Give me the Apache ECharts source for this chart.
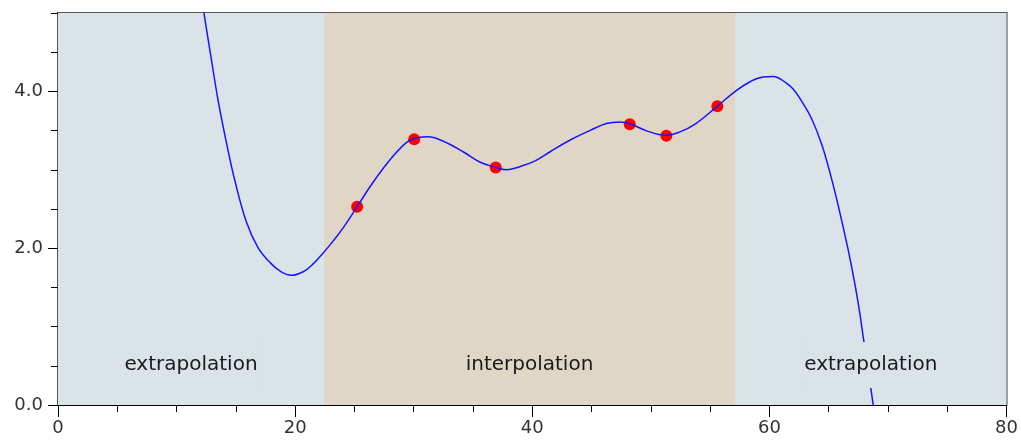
<!DOCTYPE html>
<html>
<head>
<meta charset="utf-8">
<script src="https://cdn.jsdelivr.net/npm/echarts@6/dist/echarts.min.js"></script>
<style>
html,body{margin:0;padding:0;background:#fff;}
#chart{width:1021px;height:443px;}
</style>
</head>
<body>
<div id="chart"></div>
<script>
// ---- data ----
const curveX = [11.8, 12.31, 12.87, 13.51, 14.27, 14.92, 15.9, 16.89, 17.87, 18.71, 19.7, 20.68, 21.52, 22.37, 23.2, 24.05, 25.23, 26.3, 27.85, 29.4, 30.3, 31.2, 32.4, 34.17, 35.57, 36.92, 37.8, 38.95, 40.2, 41.5, 43.2, 44.85, 46.25, 47.4, 48.2, 49.6, 51.3, 52.4, 53.8, 55.6, 57.2, 58.45, 59.46, 60.3, 61.4, 62.0, 62.7, 63.5, 64.4, 65.2, 65.9, 66.6, 67.2, 67.6, 67.9, 68.7, 69.0];
const curveY = [5.50, 5.00, 4.47, 3.88, 3.30, 2.86, 2.33, 2.00, 1.82, 1.71, 1.655, 1.70, 1.80, 1.94, 2.09, 2.26, 2.53, 2.78, 3.10, 3.35, 3.41, 3.42, 3.37, 3.23, 3.10, 3.03, 3.00, 3.04, 3.11, 3.23, 3.38, 3.50, 3.59, 3.61, 3.59, 3.50, 3.44, 3.48, 3.59, 3.81, 4.01, 4.13, 4.185, 4.19, 4.11, 4.03, 3.88, 3.67, 3.33, 2.91, 2.48, 2.01, 1.55, 1.19, 0.88, 0.06, -0.28];
const pointsX = [25.23, 30.04, 36.92, 48.22, 51.31, 55.61];
const pointsY = [2.53, 3.39, 3.03, 3.58, 3.435, 3.81];
const regionStart = [0, 22.43, 57.1];
const regionEnd = [22.43, 57.1, 80];
const regionNames = ['extrapolation', 'interpolation', 'extrapolation'];
const xTicks = [0, 20, 40, 60, 80];
const yTicks = [0, 2, 4];

// ---- styles ----
const FONT = 'DejaVu Sans';
const regionColors = ['#d9e3e8', '#e0d6c5', '#d9e3e8'];

const fills = regionNames.map((n, i) => [
  { xAxis: regionStart[i], itemStyle: { color: regionColors[i] } },
  { xAxis: regionEnd[i] }
]);
// region labels sit at the centre of each region, on the x axis baseline
const labelData = regionNames.map((n, i) => ({
  value: [(regionStart[i] + regionEnd[i]) / 2, 0],
  name: n,
  label: { backgroundColor: regionColors[i] }
}));

const chart = echarts.init(document.getElementById('chart'), null, { renderer: 'canvas' });
chart.setOption({
  animation: false,
  backgroundColor: '#ffffff',
  grid: { left: 58, right: 14, top: 13, bottom: 38, show: true, borderColor: '#555', borderWidth: 2, backgroundColor: 'transparent' },
  xAxis: {
    type: 'value', min: 0, max: 80, interval: 20,
    axisLine: { show: true, onZero: false, lineStyle: { color: '#000', width: 1 } },
    axisTick: { show: true, length: 12, lineStyle: { color: '#000' } },
    minorTick: { show: true, splitNumber: 4, length: 7, lineStyle: { color: '#000' } },
    axisLabel: { customValues: xTicks, fontFamily: FONT, fontSize: 18, color: '#333', margin: 14 },
    splitLine: { show: false }, minorSplitLine: { show: false }
  },
  yAxis: [
    {
      type: 'value', min: 0, max: 5, interval: 0.5,
      axisLine: { show: true, onZero: false, lineStyle: { color: '#000', width: 1 } },
      axisTick: { show: true, length: 7, lineStyle: { color: '#000' } },
      axisLabel: { customValues: yTicks, formatter: v => Number(v).toFixed(1), fontFamily: FONT, fontSize: 18, color: '#333', margin: 15 },
      splitLine: { show: false }
    },
    {
      type: 'value', min: 0, max: 5, interval: 0.5, position: 'left',
      axisLine: { show: false },
      axisTick: { show: true, customValues: yTicks, length: 10, lineStyle: { color: '#000' } },
      axisLabel: { show: false },
      splitLine: { show: false }
    }
  ],
  series: [
    {
      name: 'regions', type: 'line', data: [], z: 1, silent: true,
      markArea: { silent: true, label: { show: false }, data: fills }
    },
    {
      name: 'points', type: 'scatter', z: 2,
      symbol: 'circle', symbolSize: 12,
      itemStyle: { color: '#ff0000', opacity: 1 },
      data: pointsX.map((x, i) => [x, pointsY[i]])
    },
    {
      name: 'curve', type: 'line', z: 3, smooth: 0.4, showSymbol: false, clip: true,
      lineStyle: { color: '#1414ff', width: 1.5 },
      data: curveX.map((x, i) => [x, curveY[i]])
    },
    {
      name: 'labels', type: 'scatter', z: 10, silent: true, clip: false,
      symbolSize: 0,
      itemStyle: { opacity: 1 },
      label: {
        show: true, position: 'top', distance: 17, formatter: p => p.name, opacity: 1,
        fontFamily: FONT, fontSize: 20, color: '#1a1a1a', padding: [13, 4, 13, 4]
      },
      data: labelData
    }
  ]
});
</script>
</body>
</html>
